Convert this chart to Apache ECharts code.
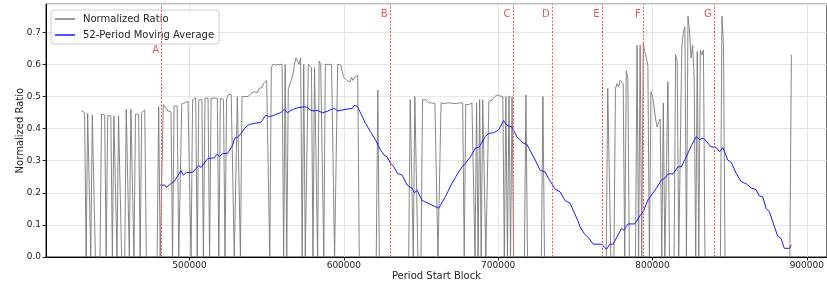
<!DOCTYPE html>
<html>
<head>
<meta charset="utf-8">
<script src="https://cdn.jsdelivr.net/npm/echarts@6/dist/echarts.min.js"></script>
<style>html,body{margin:0;padding:0;background:#fff}#chart{width:827px;height:287px}</style>
</head>
<body>
<div id="chart"></div>
<script>
// Normalized Ratio per period start block
const ratioPoints = [
[430000,0.455],[431000,0.452],[432000,0.45],[433000,0],[434000,0.448],[435000,0.445],[436000,0],[437000,0.442],[438000,0.44],[439000,0],[442000,0],[443000,0.445],[444000,0.44],[445000,0.442],[446000,0],[447000,0.44],[448000,0.438],[449000,0.44],[450000,0],[451000,0.44],[452000,0.442],[453000,0],[454000,0.44],[455000,0.445],[456000,0],[458000,0],[459000,0.46],[460000,0.462],[461000,0],[462000,0.46],[463000,0.455],[464000,0],[465000,0.445],[466000,0.44],[467000,0.445],[468000,0],[469000,0.45],[470000,0.455],[471000,0.458],[472000,0],[479000,0],
[480000,0.468],[481000,0],[482000,0],[483000,0.475],[484000,0.478],[485000,0.462],[486000,0.455],[487000,0.45],[488000,0.452],[489000,0],[490000,0.47],[491000,0.468],[492000,0.47],[493000,0],[494000,0],[495000,0.478],[496000,0.48],[497000,0.48],[498000,0.482],[499000,0.486],[500000,0.49],[501000,0],[502000,0.49],[503000,0.495],[504000,0.496],[505000,0],[506000,0.49],[507000,0.495],[508000,0.49],[509000,0],
[510000,0.495],[511000,0.495],[512000,0.495],[513000,0],[514000,0.495],[515000,0.496],[516000,0.495],[517000,0.495],[518000,0.495],[519000,0],[520000,0.495],[521000,0.495],[522000,0.49],[523000,0],[524000,0.49],[525000,0.505],[526000,0.51],[527000,0.507],[528000,0.505],[529000,0],[530000,0],[531000,0.5],[532000,0.5],[533000,0],[534000,0.5],[535000,0.502],[536000,0.5],[537000,0.503],[538000,0.5],[539000,0.505],[540000,0.51],[541000,0.505],[542000,0.515],[543000,0.52],[544000,0.512],[545000,0.525],[546000,0.53],[547000,0.528],[548000,0.54],[549000,0.535],[550000,0.55],[551000,0.552],[552000,0],
[553000,0.59],[554000,0.6],[555000,0.605],[556000,0.598],[557000,0.6],[558000,0.6],[559000,0.603],[560000,0.6],[561000,0],[562000,0.6],[563000,0],[564000,0.52],[565000,0.54],[566000,0.55],[567000,0.57],[568000,0.6],[569000,0.62],[570000,0.625],[571000,0.6],[572000,0.62],[573000,0],[574000,0.6],[575000,0],[576000,0],[577000,0.6],[578000,0.6],[579000,0.59],[580000,0],[581000,0.59],[582000,0.585],[583000,0],[584000,0.61],[585000,0.6],[586000,0.605],[587000,0],[588000,0.6],[589000,0.605],[590000,0.6],[591000,0.605],[592000,0.6],[593000,0.6],[594000,0],[595000,0],[596000,0.6],[597000,0.6],[598000,0.598],[599000,0.575],[600000,0.56],[601000,0.565],[602000,0.55],[603000,0.555],[604000,0.545],[605000,0.56],[606000,0.55],[607000,0.56],[608000,0.565],[609000,0.565],[610000,0],
[621000,0],[622000,0.52],[623000,0],[642000,0],[643000,0.49],[644000,0.49],[645000,0],[646000,0.5],[647000,0.505],[648000,0],[650000,0],[651000,0.49],[652000,0.485],[653000,0.49],[654000,0.485],[655000,0.48],[656000,0.482],[657000,0.48],[658000,0.485],[659000,0.478],[660000,0.48],[661000,0],[662000,0],[663000,0.48],[664000,0.482],[665000,0.478],[666000,0.48],[667000,0.48],[668000,0.478],[669000,0.48],[670000,0.48],[671000,0.478],[672000,0.48],
[673000,0.478],[674000,0.48],[675000,0.48],[676000,0.478],[677000,0.48],[678000,0],[679000,0.475],[680000,0.47],[681000,0.475],[682000,0.48],[683000,0.48],[684000,0.478],[685000,0],[686000,0.48],[687000,0],[688000,0.49],[689000,0],[690000,0.49],[691000,0.495],[692000,0],[693000,0],[694000,0.485],[695000,0.49],[696000,0.488],[697000,0.495],[698000,0.5],[699000,0.505],[700000,0.508],[701000,0.502],[702000,0.505],[703000,0.5],[704000,0],[705000,0.5],[706000,0],[707000,0.502],[708000,0],[709000,0.5],[710000,0],[717000,0],[718000,0.505],[719000,0],[728000,0],[729000,0.5],[730000,0],
[770000,0],[771000,0.525],[772000,0.52],[773000,0],[775000,0],[776000,0.525],[777000,0.54],[778000,0.53],[779000,0.55],[780000,0.545],[781000,0.54],[782000,0],[783000,0.58],[784000,0.56],[785000,0],[789000,0],[790000,0.66],[791000,0],[792000,0.66],[793000,0],[794000,0.665],[795000,0.64],[796000,0.62],[797000,0.598],[798000,0],[799000,0.515],[800000,0.5],[801000,0.47],[802000,0.43],[803000,0.405],[804000,0.42],[805000,0.43],[806000,0],[807000,0.48],[808000,0],[809000,0],[810000,0.546],[811000,0],[814000,0],[815000,0.63],[816000,0.61],[817000,0],[818000,0],[819000,0.655],[820000,0.7],[821000,0.717],[822000,0],[823000,0.75],[824000,0.7],[825000,0.62],[826000,0.66],[827000,0.557],[828000,0],[829000,0.64],[830000,0],[831000,0.645],[832000,0.63],[833000,0.645],[834000,0],[844000,0],[845000,0.75],[846000,0.66],[847000,0],[889000,0],[890000,0.63]
];

// 52-Period Moving Average
const movingAverage = [
[481000,0.224],[484000,0.224],[485000,0.217],[488000,0.229],[490000,0.235],[494500,0.269],[496000,0.255],[498000,0.263],[502000,0.264],[504300,0.276],[506000,0.284],[507500,0.279],[508600,0.276],[511800,0.307],[516000,0.309],[517700,0.32],[519400,0.313],[521500,0.322],[524800,0.323],[528000,0.349],[529100,0.37],[531200,0.373],[533400,0.385],[536600,0.406],[538800,0.413],[542000,0.416],[546300,0.42],[549500,0.442],[551700,0.437],[554900,0.442],[559200,0.45],[561400,0.46],[563500,0.449],[565700,0.457],[570000,0.465],[574300,0.468],[576400,0.466],[578600,0.457],[580700,0.455],[582900,0.457],[586100,0.449],[589400,0.454],[591000,0.458],[594100,0.463],[595800,0.455],[600100,0.459],[605500,0.463],[606600,0.472],[608700,0.47],[610900,0.448],[614100,0.416],[617300,0.39],[620600,0.364],[623800,0.333],[626000,0.318],[628100,0.311],[630300,0.292],[632400,0.281],[634600,0.261],[637800,0.255],[641000,0.224],[644300,0.214],[645800,0.2],[647500,0.208],[650700,0.176],[661500,0.152],[665800,0.188],[670100,0.23],[673300,0.256],[676600,0.281],[678700,0.291],[682000,0.312],[685200,0.339],[687800,0.343],[691600,0.375],[693800,0.385],[697000,0.387],[700300,0.396],[703500,0.425],[705600,0.411],[708900,0.405],[712100,0.375],[716400,0.354],[718600,0.351],[724000,0.302],[727200,0.27],[730400,0.265],[732600,0.245],[736900,0.211],[740100,0.203],[743300,0.176],[746500,0.168],[751900,0.11],[753000,0.094],[756200,0.07],[758400,0.061],[761600,0.04],[767000,0.04],[770200,0.024],[772400,0.04],[774500,0.04],[779900,0.089],[781400,0.084],[784200,0.103],[788500,0.103],[791800,0.128],[793900,0.141],[797100,0.178],[802500,0.214],[805800,0.24],[807900,0.245],[810100,0.259],[813300,0.259],[816500,0.281],[818700,0.281],[821900,0.312],[825100,0.346],[828400,0.375],[830500,0.366],[832700,0.37],[834800,0.362],[837600,0.344],[841300,0.341],[843500,0.328],[845600,0.341],[848800,0.302],[851000,0.295],[854200,0.261],[857400,0.235],[860700,0.228],[863900,0.215],[867100,0.21],[869300,0.19],[871400,0.188],[873600,0.152],[875800,0.14],[881100,0.065],[883300,0.058],[885400,0.027],[888700,0.027],[890000,0.037]
];

// Event markers
const eventBlocks = [481824, 630000, 709632, 735000, 767400, 794000, 840000];
const eventLabels = ['A', 'B', 'C', 'D', 'E', 'F', 'G'];

const seriesNames = ['Normalized Ratio', '52-Period Moving Average'];
const FONT = 'DejaVu Sans';
const EVENT_TEXT = '#e8282b';
const EVENT_LINE = '#f55a5a';

const chart = echarts.init(document.getElementById('chart'), null, {renderer: 'canvas'});
chart.setOption({
  animation: false,
  backgroundColor: '#ffffff',
  grid: {left: 46, top: 4.2, width: 783.4, height: 252.8, show: true, borderColor: '#262626', borderWidth: 1, backgroundColor: 'transparent', containLabel: false},
  legend: {
    data: seriesNames,
    orient: 'vertical',
    left: 51, top: 10,
    padding: [3, 5, 3, 4],
    itemGap: 4,
    itemWidth: 20, itemHeight: 1.5,
    icon: 'rect',
    backgroundColor: 'rgba(255,255,255,0.85)',
    borderColor: '#cccccc', borderWidth: 1, borderRadius: 3,
    textStyle: {fontFamily: FONT, fontSize: 10, color: '#262626', lineHeight: 12, padding: [0, 0, 0, 3]}
  },
  xAxis: {
    type: 'value', min: 407000, max: 913000,
    name: 'Period Start Block', nameLocation: 'middle', nameGap: 14, nameMoveOverlap: false,
    nameTextStyle: {fontFamily: FONT, fontSize: 10, color: '#262626'},
    axisLine: {show: true, onZero: false, lineStyle: {color: '#000', width: 1}},
    axisTick: {show: true, length: 3.5, lineStyle: {color: '#262626', width: 1}},
    axisLabel: {fontFamily: FONT, fontSize: 9, color: '#262626', margin: 4, showMinLabel: false, showMaxLabel: false, formatter: v => String(v)},
    splitLine: {show: true, lineStyle: {color: '#e6e6e6', width: 1}}
  },
  yAxis: {
    type: 'value', min: 0, max: 0.7875, interval: 0.1,
    name: 'Normalized Ratio', nameLocation: 'middle', nameGap: 21, nameMoveOverlap: false,
    nameTextStyle: {fontFamily: FONT, fontSize: 10, color: '#262626'},
    axisLine: {show: true, lineStyle: {color: '#000', width: 1}},
    axisTick: {show: true, length: 3.5, lineStyle: {color: '#262626', width: 1}},
    axisLabel: {fontFamily: FONT, fontSize: 9, color: '#262626', margin: 5, showMaxLabel: false, formatter: v => v.toFixed(1)},
    splitLine: {show: true, lineStyle: {color: '#e6e6e6', width: 1}}
  },
  series: [
    {
      name: seriesNames[0], type: 'line', data: ratioPoints,
      showSymbol: false, symbol: 'none', z: 2,
      itemStyle: {color: '#7a7a7a'},
      lineStyle: {color: '#7a7a7a', width: 1, opacity: 0.9}
    },
    {
      name: seriesNames[1], type: 'line', data: movingAverage,
      showSymbol: false, symbol: 'none', z: 4,
      itemStyle: {color: '#1a1aff'},
      lineStyle: {color: '#1a1aff', width: 1}
    },
    {
      name: 'events', type: 'scatter', z: 5, silent: true,
      data: eventBlocks.map((b, i) => [b, i === 0 ? 0.643 : 0.757]),
      symbolSize: 1, itemStyle: {color: 'rgba(255,255,255,0)'},
      label: {show: true, position: 'left', distance: 2, formatter: p => eventLabels[p.dataIndex],
              fontFamily: FONT, fontSize: 10, color: EVENT_TEXT},
      markLine: {
        symbol: 'none', silent: true, animation: false,
        label: {show: false},
        lineStyle: {color: EVENT_LINE, type: [2, 1.5], width: 1, opacity: 1},
        data: eventBlocks.map(b => ({xAxis: b}))
      }
    }
  ]
});
</script>
</body>
</html>
